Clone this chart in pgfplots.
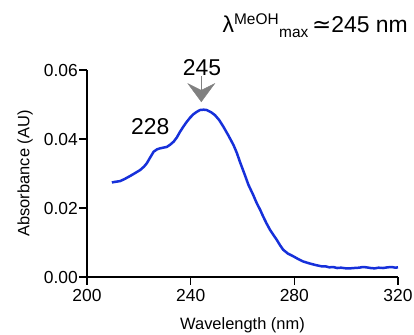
\documentclass[border=0pt]{standalone}
\usepackage{pgfplots}
\pgfplotsset{compat=1.18}
\usepackage{fontspec}
\setmainfont{Liberation Sans}
\newfontfamily\dejavu{DejaVu Sans}
\usetikzlibrary{arrows.meta}
\definecolor{specblue}{RGB}{22,48,218}
\definecolor{arrgray}{RGB}{128,128,128}
\begin{document}
\begin{tikzpicture}
\path[use as bounding box] (-87bp,-58bp) rectangle (327bp,277bp);
\begin{axis}[
  at={(0,0)}, anchor=south west,
  scale only axis, width=311bp, height=207bp,
  xmin=200, xmax=320, ymin=0, ymax=0.06,
  axis x line*=bottom, axis y line*=left,
  axis line style={line width=1.2bp, black},
  xtick={200,240,280,320},
  ytick={0,0.02,0.04,0.06},
  tick align=outside, tick pos=left,
  major tick length=7.5bp,
  every tick/.style={line width=1.2bp, black},
  /pgf/number format/assume math mode=true,
  yticklabel style={/pgf/number format/.cd, fixed, fixed zerofill, precision=2},
  scaled y ticks=false,
  ticklabel style={font=\fontsize{17.5}{20}\selectfont, inner sep=1.5bp},
  xticklabel style={yshift=-3bp},
  xlabel={Wavelength (nm)},
  ylabel={Absorbance (AU)},
  label style={font=\fontsize{16.5}{19}\selectfont},
  xlabel style={at={(axis description cs:0.5,0)}, anchor=base, yshift=-52bp},
  ylabel style={at={(axis description cs:-0.1736,0.5)}, anchor=south, inner sep=0pt},
  clip=false,
]
\addplot[specblue, line width=2.5bp, line join=round] coordinates {
(209.6,0.0274) (211.0,0.0276) (212.8,0.0278) (214.5,0.0284) (216.7,0.0293)
(218.5,0.0301) (220.5,0.0310) (222.0,0.0320) (223.1,0.0330) (224.5,0.0348)
(225.7,0.0363) (227.0,0.0370) (228.2,0.0373) (229.5,0.0375) (230.8,0.0377)
(232.0,0.0383) (233.4,0.0392) (234.7,0.0405) (235.9,0.0421) (237.2,0.0436)
(238.5,0.0450) (239.8,0.0462) (241.1,0.0472) (242.4,0.0479) (243.6,0.0484)
(245.0,0.0485) (246.2,0.0484) (247.8,0.0478) (249.4,0.0469) (251.0,0.0455)
(252.6,0.0436) (254.5,0.0411) (256.5,0.0383) (257.8,0.0360) (259.0,0.0334)
(260.7,0.0300) (262.3,0.0267) (264.0,0.0240) (265.5,0.0214) (266.8,0.0195)
(268.0,0.0175) (269.3,0.0155) (270.6,0.0137) (272.0,0.0121) (273.2,0.0108)
(274.5,0.0092) (275.7,0.0079) (277.5,0.0068) (279.6,0.0060) (281.5,0.0052)
(283.4,0.0045) (286.0,0.0039) (288.6,0.0034) (290.5,0.0031) (292.0,0.0031)
(293.5,0.0028) (295.0,0.0029) (296.5,0.0026) (298.0,0.0027) (300.0,0.0025)
(301.4,0.0025) (303.0,0.0026) (305.0,0.0027) (306.5,0.0029) (307.8,0.0028)
(309.5,0.0026) (311.0,0.0025) (312.5,0.0027) (314.2,0.0026) (316.0,0.0028)
(317.5,0.0029) (319.0,0.0027) (320.0,0.0028)
};
\draw[arrgray, line width=0.4bp, -{Stealth[length=19bp, width=28bp, inset=7bp]}]
  (axis cs:244.1,0.0582) -- (axis cs:244.1,0.0507);
\node[anchor=base, font=\fontsize{23}{27}\selectfont, inner sep=0pt] at (axis cs:244.4,0.0585) {245};
\node[anchor=base, font=\fontsize{23}{27}\selectfont, inner sep=0pt] at (axis cs:224.4,0.0414) {228};
\end{axis}
\node[anchor=base east, inner sep=0pt, font=\fontsize{23}{27}\selectfont] at (321bp,244bp)
  {λ\textsuperscript{\fontsize{15.5}{18}\selectfont MeOH}\raisebox{-5bp}{\fontsize{15.5}{18}\selectfont max}\,{\dejavu ≃}245 nm};
\end{tikzpicture}
\end{document}
